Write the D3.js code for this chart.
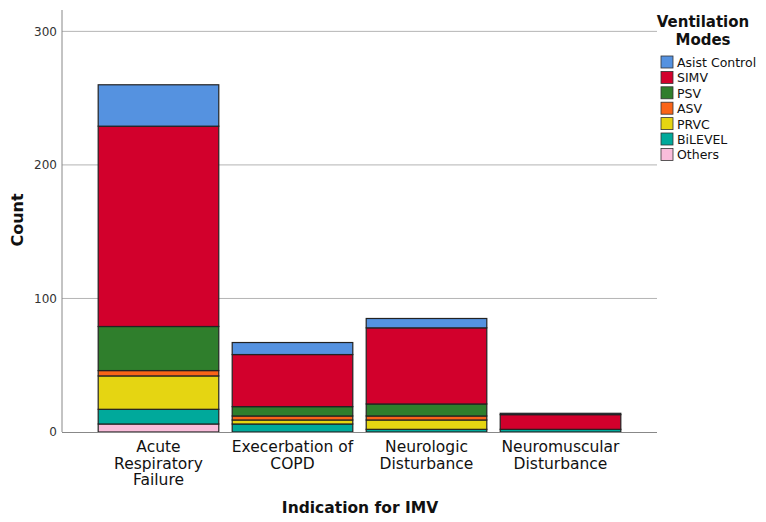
<!DOCTYPE html>
<html>
<head>
<meta charset="utf-8">
<script src="https://cdn.jsdelivr.net/npm/d3@7"></script>
<style>
  body { margin: 0; background: #fff; }
  text { font-family: "DejaVu Sans", sans-serif; }
</style>
</head>
<body>
<div id="chart"></div>
<script>
const categories = ["Acute Respiratory Failure", "Execerbation of COPD", "Neurologic Disturbance", "Neuromuscular Disturbance"];
const categoryLines = [["Acute", "Respiratory", "Failure"], ["Execerbation of", "COPD"], ["Neurologic", "Disturbance"], ["Neuromuscular", "Disturbance"]];
// stacking order bottom -> top
const modes = ["Others", "BiLEVEL", "PRVC", "ASV", "PSV", "SIMV", "Asist Control"];
const others = [6, 0, 0, 0];
const bilevel = [11, 6, 2, 2];
const prvc = [25, 3, 7, 0];
const asv = [4, 3, 3, 0];
const psv = [33, 7, 9, 0];
const simv = [150, 39, 57, 11];
const asistControl = [31, 9, 7, 1];
const yTicks = [0, 100, 200, 300];
const legendOrder = ["Asist Control", "SIMV", "PSV", "ASV", "PRVC", "BiLEVEL", "Others"];

const colors = {
    "Asist Control": "#5592e0",
    "SIMV": "#d2002c",
    "PSV": "#2f7e2c",
    "ASV": "#fa6418",
    "PRVC": "#e5d512",
    "BiLEVEL": "#00a99b",
    "Others": "#f9bddb"
};

const seriesValues = {
    "Others": others, "BiLEVEL": bilevel, "PRVC": prvc, "ASV": asv,
    "PSV": psv, "SIMV": simv, "Asist Control": asistControl
};
const table = categories.map((c, i) => {
    const row = { category: c };
    modes.forEach(m => row[m] = seriesValues[m][i]);
    return row;
});

const W = 766, H = 522;
const plot = { left: 62, right: 657, top: 10, bottom: 432 };

const svg = d3.select("#chart").append("svg")
    .attr("width", W).attr("height", H);

const x = d3.scaleBand().domain(categories).range([plot.left, plot.right])
    .paddingInner(0.1).paddingOuter(0.27);
const y = d3.scaleLinear().domain([0, 316]).range([plot.bottom, plot.top]);

// gridlines
svg.append("g").selectAll("line")
    .data(yTicks.filter(d => d > 0))
    .enter().append("line")
    .attr("x1", plot.left).attr("x2", plot.right)
    .attr("y1", d => y(d)).attr("y2", d => y(d))
    .attr("stroke", "#b4b4b4").attr("stroke-width", 1);

// y axis
const yAxis = svg.append("g")
    .attr("transform", `translate(${plot.left},0)`)
    .call(d3.axisLeft(y).tickValues(yTicks).tickSize(0).tickPadding(5));
yAxis.select(".domain").attr("stroke", "#888").attr("d", `M0,${plot.top}V${plot.bottom}`);
yAxis.selectAll(".tick text").attr("fill", "#333").style("font-size", "12px");

// bars
const stack = d3.stack().keys(modes)(table);
svg.append("g").selectAll("g")
    .data(stack)
    .enter().append("g")
    .attr("fill", d => colors[d.key])
    .selectAll("rect")
    .data(d => d.filter(s => s[1] - s[0] > 0))
    .enter().append("rect")
    .attr("x", d => x(d.data.category))
    .attr("width", x.bandwidth())
    .attr("y", d => y(d[1]))
    .attr("height", d => y(d[0]) - y(d[1]))
    .attr("stroke", "#222")
    .attr("stroke-width", 1.2);

// x axis line
svg.append("line")
    .attr("x1", plot.left).attr("x2", plot.right)
    .attr("y1", plot.bottom + 0.5).attr("y2", plot.bottom + 0.5)
    .attr("stroke", "#888");

// category labels
categories.forEach((c, i) => {
    const t = svg.append("text")
        .attr("x", x(c) + x.bandwidth() / 2)
        .attr("y", 452)
        .attr("text-anchor", "middle")
        .attr("fill", "#111")
        .style("font-size", "15.5px");
    categoryLines[i].forEach((line, j) => {
        t.append("tspan")
            .attr("x", x(c) + x.bandwidth() / 2)
            .attr("dy", j === 0 ? 0 : 16.5)
            .text(line);
    });
});

// axis titles
svg.append("text")
    .attr("x", 360).attr("y", 513)
    .attr("text-anchor", "middle")
    .style("font-size", "15.5px").style("font-weight", "bold")
    .attr("fill", "#111")
    .text("Indication for IMV");

svg.append("text")
    .attr("transform", `translate(23,220) rotate(-90)`)
    .attr("text-anchor", "middle")
    .style("font-size", "16px").style("font-weight", "bold")
    .attr("fill", "#111")
    .text("Count");

// legend
const lg = svg.append("g");
lg.append("text").attr("x", 703).attr("y", 27)
    .attr("text-anchor", "middle")
    .style("font-size", "15px").style("font-weight", "bold")
    .attr("fill", "#111")
    .text("Ventilation");
lg.append("text").attr("x", 703).attr("y", 45)
    .attr("text-anchor", "middle")
    .style("font-size", "15px").style("font-weight", "bold")
    .attr("fill", "#111")
    .text("Modes");

const items = lg.selectAll("g.item")
    .data(legendOrder)
    .enter().append("g")
    .attr("class", "item")
    .attr("transform", (d, i) => `translate(661,${56 + i * 15.4})`);
items.append("rect")
    .attr("width", 12).attr("height", 12)
    .attr("fill", d => colors[d])
    .attr("stroke", "#333").attr("stroke-width", 0.8);
items.append("text")
    .attr("x", 16).attr("y", 11)
    .style("font-size", "12.5px")
    .attr("fill", "#111")
    .text(d => d);
</script>
</body>
</html>
